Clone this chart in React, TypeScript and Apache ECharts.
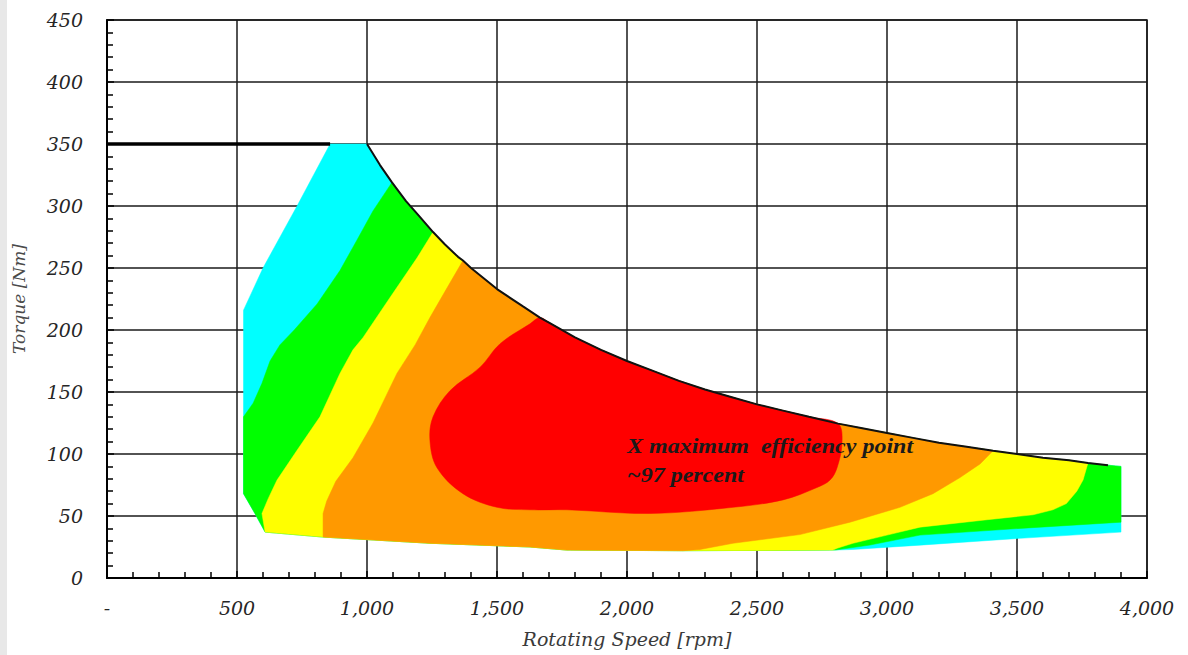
import React, { useEffect, useRef } from "react";
import * as echarts from "echarts";

// ---- Axis ticks ----
const xMin = 0, xMax = 4000, xStep = 500;
const yMin = 0, yMax = 450, yStep = 50;

// ---- Torque envelope [rpm, Nm] ----
const envelope: number[][] = [
  [0, 350], [858, 350], [1000, 350], [1050, 333], [1096, 319], [1150, 304], [1200, 292], [1254, 279],
  [1300, 269], [1350, 259], [1369, 256], [1400, 250], [1500, 233], [1600, 219], [1665, 210], [1700, 206],
  [1800, 194], [1900, 184], [2000, 175], [2100, 167], [2200, 159], [2300, 152], [2400, 146], [2500, 140],
  [2600, 135], [2700, 130], [2812, 124.5], [2900, 121], [3000, 117], [3100, 113], [3200, 109], [3300, 106],
  [3408, 102.7], [3500, 100], [3600, 97], [3700, 95], [3773, 92.8], [3850, 91], [3900, 90],
];
const fullLoadLine: number[][] = [[0, 350], [858, 350]];

// ---- Efficiency region boundaries [rpm, Nm] ----
const outerLeftEdge: number[][] = [[608, 37], [569, 52], [525, 68], [525, 216], [600, 250], [731, 300], [858, 350]];
const bottomEdge: number[][] = [
  [608, 37], [831, 33], [1242, 28], [1627, 25], [1769, 22.5], [2215, 22], [2792, 22.5], [2869, 23],
  [3127, 26.5], [3512, 32], [3900, 37],
];
const cyanGreenEdge: number[][] = [[1096, 319], [1023, 296], [960, 272], [896, 248], [808, 221], [720, 200], [665, 188], [627, 175], [596, 157], [562, 141], [525, 130]];
const greenLeftLower: number[][] = [[525, 68], [569, 52], [608, 37]];
const greenCyanLowerEdge: number[][] = [[2800, 22.5], [2935, 26.6], [3127, 34.6], [3512, 40], [3900, 45]];
const greenYellowEdge: number[][] = [[1254, 279], [1192, 258], [1088, 226], [985, 194], [946, 184], [896, 165], [819, 130], [731, 103], [654, 79], [620, 64], [596, 52], [608, 37]];
const yellowGreenEdge: number[][] = [[2792, 22.5], [2808, 24], [2869, 28], [3000, 34.6], [3127, 41], [3385, 47], [3562, 51], [3638, 55], [3690, 60], [3730, 70], [3754, 79], [3773, 92.8]];
const yellowOrangeEdge: number[][] = [[1369, 256], [1308, 234], [1242, 210], [1185, 188], [1115, 165], [1023, 125], [946, 97], [880, 78], [845, 62], [831, 52], [831, 33]];
const orangeYellowEdge: number[][] = [[2281, 23], [2408, 28], [2665, 35], [2858, 45], [3050, 57], [3177, 68], [3281, 81], [3358, 92], [3408, 102.7]];
const redEdge: number[][] = [
  [2812, 124.5], [2827, 109], [2808, 89], [2781, 79], [2731, 73], [2600, 63], [2408, 57], [2088, 52], [1769, 55],
  [1627, 55], [1500, 57], [1369, 68], [1269, 89], [1242, 111], [1254, 130], [1319, 151], [1435, 170], [1512, 189],
  [1627, 205], [1665, 210],
];

// ---- Colours ----
const bandColors = ["#00FFFF", "#00FF00", "#FFFF00", "#FF9900", "#FF0000"];
const bandSmooth = [0, 0, 0, 0, 0.35];

// ---- Annotation ----
const annotationLines = ["X maximum  efficiency point", "~97 percent"];
const annotationAnchors: number[][] = [[2000, 106], [2000, 83]];

const envBetween = (a: number, b: number) => envelope.filter((p) => p[0] > a && p[0] < b);
const bottomBetween = (a: number, b: number) => bottomEdge.filter((p) => p[0] > a && p[0] < b);

const polygons: number[][][] = [
  [...outerLeftEdge, ...envBetween(858, 3900), [3900, 90], ...bottomEdge.slice().reverse()],
  [...cyanGreenEdge, ...greenLeftLower, ...bottomBetween(608, 2800), ...greenCyanLowerEdge, [3900, 90], ...envBetween(1096, 3900).reverse()],
  [...greenYellowEdge, ...bottomBetween(608, 2792), ...yellowGreenEdge, ...envBetween(1254, 3773).reverse()],
  [...yellowOrangeEdge, ...bottomBetween(831, 2281), ...orangeYellowEdge, ...envBetween(1369, 3408).reverse()],
  [...envBetween(1665, 2812), ...redEdge],
];

const FONT = '"DejaVu Serif", serif';

export default function App() {
  const ref = useRef<HTMLDivElement>(null);
  useEffect(() => {
    if (!ref.current) return;
    const chart = echarts.init(ref.current, null, { renderer: "svg" });
    const axisCommon = {
      type: "value" as const,
      axisLine: { show: true, onZero: false, lineStyle: { color: "#000", width: 2 } },
      axisTick: { show: true, inside: true, length: 7, lineStyle: { color: "#000", width: 1.5 } },
      minorTick: { show: true, splitNumber: 5, length: 6, lineStyle: { color: "#000", width: 1.5 } },
      splitLine: { show: true, lineStyle: { color: "#1a1a1a", width: 1.5 } },
    };
    const polySeries = polygons.map((pts, i) => ({
      type: "custom",
      silent: true,
      z: 2 + i,
      data: [pts[0]],
      renderItem: (_params: any, api: any) => ({
        type: "polygon",
        shape: { points: pts.map((p) => api.coord(p)), smooth: bandSmooth[i] },
        style: { fill: bandColors[i], stroke: bandColors[i], lineWidth: 0.5 },
      }),
    }));
    chart.setOption({
      animation: false,
      backgroundColor: "#fff",
      grid: { left: 107, right: 41, top: 20, bottom: 77, show: true, borderColor: "#1a1a1a", borderWidth: 1.5 },
      xAxis: {
        ...axisCommon,
        min: xMin, max: xMax, interval: xStep,
        name: "Rotating Speed [rpm]",
        nameLocation: "middle",
        nameGap: 51,
        nameTextStyle: { fontFamily: FONT, fontStyle: "italic", fontSize: 19, color: "#3a3a3a" },
        axisLabel: {
          margin: 20, fontFamily: FONT, fontStyle: "italic", fontSize: 19, color: "#262626",
          formatter: (v: number) => (v === 0 ? "-" : v.toLocaleString("en-US")),
        },
      },
      yAxis: {
        ...axisCommon,
        min: yMin, max: yMax, interval: yStep,
        name: "Torque [Nm]",
        nameLocation: "middle",
        nameGap: 80,
        nameTextStyle: { fontFamily: FONT, fontStyle: "italic", fontSize: 17, color: "#4a4a4a" },
        axisLabel: { margin: 24, fontFamily: FONT, fontStyle: "italic", fontSize: 19, color: "#262626" },
      },
      series: [
        ...polySeries,
        {
          type: "line", z: 10, silent: true, symbol: "none",
          data: fullLoadLine, lineStyle: { color: "#000", width: 3.5 },
        },
        {
          type: "line", z: 10, silent: true, symbol: "none",
          data: envelope.filter((p) => p[0] >= 1000 && p[0] <= 3850),
          lineStyle: { color: "#111", width: 2 },
        },
      ],
    });
    const graphics: any[] = [
      { type: "rect", shape: { x: 0, y: 0, width: 7, height: 655 }, style: { fill: "#e8e8e8" }, silent: true },
    ];
    annotationLines.forEach((t, i) => {
      const px = chart.convertToPixel({ gridIndex: 0 }, annotationAnchors[i]) as number[];
      graphics.push({
        type: "text", x: px[0], y: px[1], scaleX: 1.2, z: 100,
        style: {
          text: t, fill: "#1a1a1a", fontFamily: '"Liberation Serif", serif',
          fontStyle: "italic", fontWeight: "bold", fontSize: 20, verticalAlign: "middle", align: "left",
        },
      });
    });
    chart.setOption({ graphic: graphics });
    return () => chart.dispose();
  }, []);
  return (
    <div
      ref={ref}
      style={{ position: "fixed", left: 0, top: 0, width: 1188, height: 655, background: "#fff" }}
    />
  );
}
